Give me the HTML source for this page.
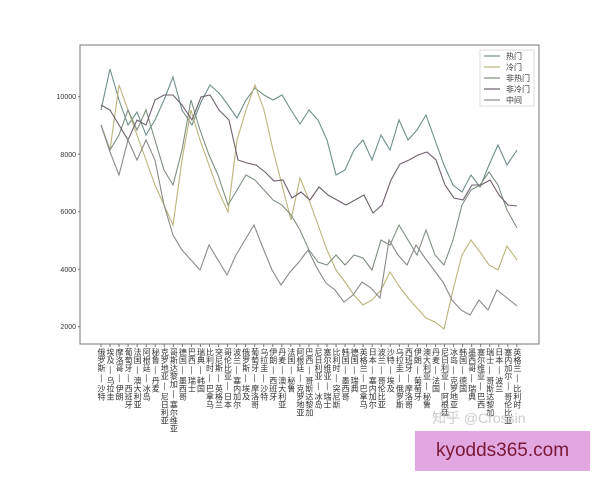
<!DOCTYPE html>
<html><head><meta charset="utf-8"><style>
body{margin:0;background:#fff;width:600px;height:480px;overflow:hidden;position:relative;font-family:"Liberation Sans","Noto Sans CJK SC",sans-serif}
.xl{position:absolute;top:348px;writing-mode:vertical-rl;font-size:8px;line-height:8px;color:#333;white-space:nowrap}
.wm{position:absolute;left:415px;top:431px;width:175px;height:40px;background:#e2a6e0;color:#7a1838;font-size:19px;line-height:40px;text-align:center}
.zh{position:absolute;left:432px;top:408px;color:#ccc;font-size:14px}
</style></head><body>
<svg width="600" height="480" style="position:absolute;left:0;top:0">
<rect x="80" y="45" width="459" height="299" fill="none" stroke="#777" stroke-width="1"/>
<g font-size="7" fill="#333" text-anchor="end" font-family="Liberation Sans">
<text x="76" y="99">10000</text><text x="76" y="157">8000</text><text x="76" y="214">6000</text><text x="76" y="272">4000</text><text x="76" y="329">2000</text>
</g>
<g stroke="#777" stroke-width="1"><line x1="78" x2="80" y1="96.7" y2="96.7"/><line x1="78" x2="80" y1="154.2" y2="154.2"/><line x1="78" x2="80" y1="211.7" y2="211.7"/><line x1="78" x2="80" y1="269.2" y2="269.2"/><line x1="78" x2="80" y1="326.7" y2="326.7"/></g>
<g id="ticks" stroke="#777"></g>
<g fill="none" stroke-width="1.1">
<polyline stroke="#6f8f8c" points="101,110 110,69 119,100 128,125 137,112 146,135 155,120 164,100 173,77 182,110 192,125 201,102 210,85 219,93 228,105 237,118 246,100 255,88 264,95 273,100 282,95 291,110 300,124 309,110 318,120 327,140 336,175 345,170 354,150 363,140 372,160 381,135 390,150 399,120 408,140 417,130 426,115 435,140 444,165 453,185 462,192 471,175 480,187 489,165 498,145 507,165 517,150"/>
<polyline stroke="#bbb47a" points="101,125 110,150 119,85 128,110 137,135 146,160 155,185 164,205 173,225 182,160 191,110 200,140 209,165 218,190 228,212 237,140 246,110 255,85 264,110 273,150 282,185 291,220 300,178 309,200 318,225 327,250 336,270 345,282 354,295 363,305 372,300 381,290 390,272 399,286 408,298 417,308 426,318 435,322 444,329 453,290 462,255 471,240 480,252 489,265 498,270 507,246 517,260"/>
<polyline stroke="#7f9080" points="101,125 110,150 119,135 128,110 137,130 146,110 155,140 164,170 173,185 182,150 191,100 200,130 209,155 218,175 228,205 237,190 246,175 255,180 264,190 273,200 282,205 291,215 300,230 309,250 318,262 327,265 336,255 345,265 354,255 363,258 372,270 381,240 390,245 399,225 408,240 417,255 426,230 435,255 444,265 453,240 462,205 471,190 480,185 489,172 498,185 507,210 517,228"/>
<polyline stroke="#6e5f6e" points="101,105 110,110 119,125 128,140 137,120 146,125 155,100 164,95 173,95 182,105 192,120 201,97 210,95 219,110 229,120 238,160 247,163 256,165 265,172 274,181 283,180 292,198 301,192 310,200 319,187 328,195 337,200 346,205 355,200 364,195 373,213 382,205 391,180 400,164 409,160 418,155 427,152 436,160 445,185 454,198 463,200 472,185 481,185 490,180 499,195 508,205 517,206"/>
<polyline stroke="#8a8a8a" points="101,125 110,152 119,175 128,140 137,160 146,140 155,160 164,205 173,235 182,250 191,260 200,270 209,245 218,260 227,275 236,255 245,240 254,225 263,248 272,270 281,285 290,272 299,262 308,250 317,268 326,283 335,290 344,302 353,295 362,282 371,288 380,298 389,240 398,255 407,265 416,245 425,258 434,270 443,282 452,300 461,310 470,315 479,300 488,310 497,290 507,298 517,306"/>
</g>
<rect x="480" y="50" width="54" height="56" fill="#fff" stroke="#ddd"/>
<g stroke-width="1.2"><line x1="484" x2="500" y1="56" y2="56" stroke="#6f8f8c"/><line x1="484" x2="500" y1="67" y2="67" stroke="#bbb47a"/><line x1="484" x2="500" y1="78" y2="78" stroke="#7f9080"/><line x1="484" x2="500" y1="89" y2="89" stroke="#6e5f6e"/><line x1="484" x2="500" y1="100" y2="100" stroke="#8a8a8a"/></g>
<g font-size="8" fill="#333" font-family="Liberation Sans,Noto Sans CJK SC,sans-serif"><text x="506" y="59">热门</text><text x="506" y="70">冷门</text><text x="506" y="81">非热门</text><text x="506" y="92">非冷门</text><text x="506" y="103">中间</text></g>
</svg>
<div id="xls"></div>
<div class="zh">知乎 @Crossin</div>
<div class="wm">kyodds365.com</div>
<script>
var n=['俄罗斯 — 沙特','埃及 — 乌拉圭','摩洛哥 — 伊朗','葡萄牙 — 西班牙','法国 — 澳大利亚','阿根廷 — 冰岛','秘鲁 — 丹麦','克罗地亚 — 尼日利亚','哥斯达黎加 — 塞尔维亚','德国 — 墨西哥','巴西 — 瑞士','瑞典 — 韩国','比利时 — 巴拿马','突尼斯 — 英格兰','哥伦比亚 — 日本','波兰 — 塞内加尔','俄罗斯 — 埃及','葡萄牙 — 摩洛哥','乌拉圭 — 沙特','伊朗 — 西班牙','丹麦 — 澳大利亚','法国 — 秘鲁','阿根廷 — 克罗地亚','巴西 — 哥斯达黎加','尼日利亚 — 冰岛','塞尔维亚 — 瑞士','比利时 — 突尼斯','韩国 — 墨西哥','德国 — 瑞典','英格兰 — 巴拿马','日本 — 塞内加尔','波兰 — 哥伦比亚','沙特 — 埃及','乌拉圭 — 俄罗斯','西班牙 — 摩洛哥','伊朗 — 葡萄牙','澳大利亚 — 秘鲁','丹麦 — 法国','尼日利亚 — 阿根廷','冰岛 — 克罗地亚','韩国 — 德国','墨西哥 — 瑞典','塞尔维亚 — 巴西','瑞士 — 哥斯达黎加','日本 — 波兰','塞内加尔 — 哥伦比亚','英格兰 — 比利时'];
var h='',t='';
for(var i=0;i<47;i++){var x=101+i*9.04;h+='<div class="xl" style="left:'+(x-4)+'px">'+n[i]+'</div>';t+='<line x1="'+x+'" x2="'+x+'" y1="344" y2="347"/>';}
document.getElementById('xls').innerHTML=h;document.getElementById('ticks').innerHTML=t;
</script>
</body></html>
